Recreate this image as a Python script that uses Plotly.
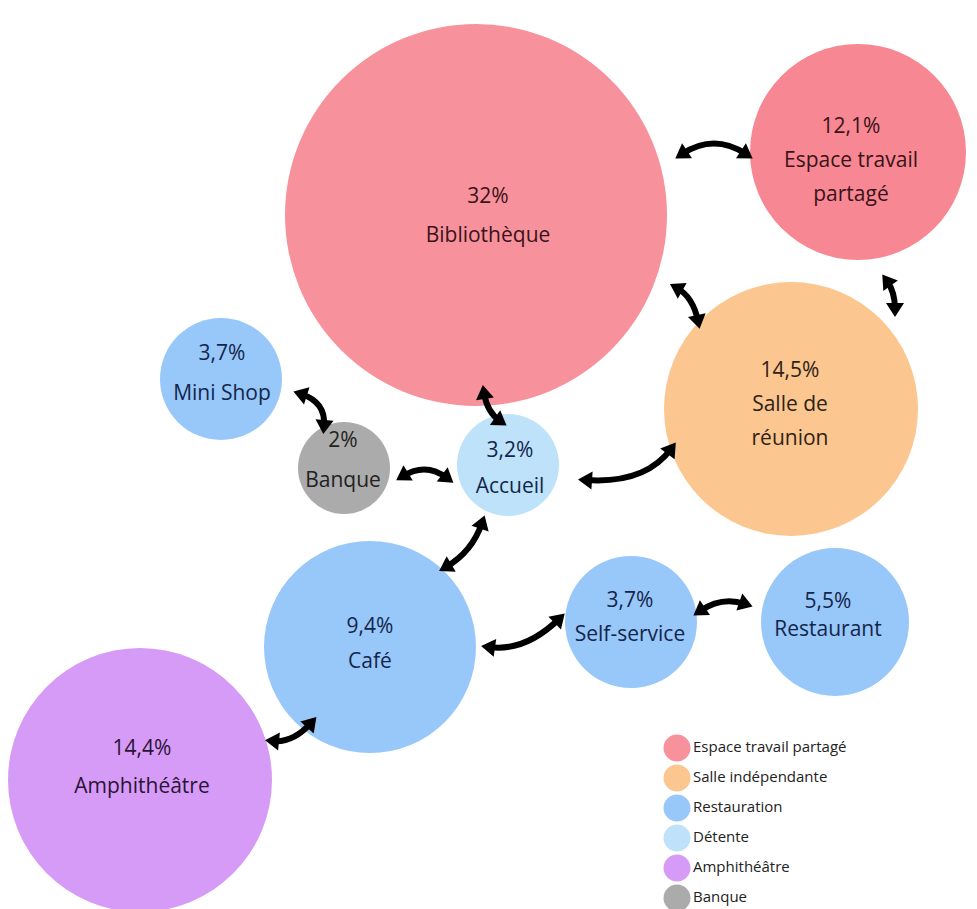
import math
import plotly.graph_objects as go

# ---------------- data ----------------
names = ["Bibliothèque", "Espace travail<br>partagé", "Salle de<br>réunion", "Mini Shop",
         "Banque", "Accueil", "Café", "Self-service", "Restaurant", "Amphithéâtre"]
pct_labels = ["32%", "12,1%", "14,5%", "3,7%", "2%", "3,2%", "9,4%", "3,7%", "5,5%", "14,4%"]
values = [32, 12.1, 14.5, 3.7, 2, 3.2, 9.4, 3.7, 5.5, 14.4]
groups = ["Espace travail partagé", "Espace travail partagé", "Salle indépendante", "Restauration",
          "Banque", "Détente", "Restauration", "Restauration", "Restauration", "Amphithéâtre"]
legend_items = ["Espace travail partagé", "Salle indépendante", "Restauration",
                "Détente", "Amphithéâtre", "Banque"]

# ---------------- layout / style ----------------
W, H = 977, 909
cx = [476, 858, 791, 221, 344, 508, 370, 631, 835, 140]
cy = [215, 152, 409, 379, 468, 465, 647, 622, 622, 780]
radii = [191, 108, 127, 61, 46, 51, 106, 66, 74, 132]
label_y = [217, 162, 406, 375, 462, 470, 645, 619, 617, 769]
label_x = [488, 851, 790, 222, 343, 510, 370, 630, 828, 142]
line_gap = [39, 34, 34, 40, 40, 36, 35, 34, 28, 38]
font_size = [21, 21, 21, 21, 21, 21, 21, 21, 21, 21]

fill = {"Espace travail partagé": "#F7929D", "Salle indépendante": "#FBC690",
        "Restauration": "#98C7FA", "Détente": "#BDE2FA", "Amphithéâtre": "#D69BF6",
        "Banque": "#ABABAB"}
txtcol = {"Espace travail partagé": "#3a1219", "Salle indépendante": "#2e2216",
          "Restauration": "#13264a", "Détente": "#13264a", "Amphithéâtre": "#2a1436",
          "Banque": "#222222"}
pink_overrides = {1: "#F78893"}

fig = go.Figure()

# bubbles
for i in range(len(names)):
    col = pink_overrides.get(i, fill[groups[i]])
    fig.add_trace(go.Scatter(x=[cx[i]], y=[cy[i]], mode="markers",
                             marker=dict(size=2 * radii[i], color=col, line=dict(width=0), opacity=1),
                             hoverinfo="skip", cliponaxis=False))

# labels
for i in range(len(names)):
    lines = [pct_labels[i]] + names[i].split("<br>")
    n = len(lines)
    ys = [label_y[i] + (k - (n - 1) / 2) * line_gap[i] for k in range(n)]
    fig.add_trace(go.Scatter(x=[label_x[i]] * n, y=ys, mode="text", text=lines,
                             textposition="middle center",
                             textfont=dict(family="Open Sans, sans-serif", size=font_size[i],
                                           color=txtcol[groups[i]]),
                             hoverinfo="skip", cliponaxis=False))

# arrows (decorative connectors): start, control, end
arrows = [
    ((682, 154), (714, 133), (746, 154)),
    ((677, 288), (693, 297), (698, 321)),
    ((887, 281), (895, 292), (895, 309)),
    ((484, 393), (487, 412), (500, 421)),
    ((301, 394), (326, 402), (324, 426)),
    ((403, 476), (426, 462), (447, 478)),
    ((586, 480), (645, 484), (671, 449)),
    ((482, 523), (472, 552), (446, 567)),
    ((489, 647), (525, 652), (559, 619)),
    ((700, 611), (722, 596), (745, 604)),
    ((273, 741), (293, 743), (311, 723)),
]
shapes = []
for p0, c, p1 in arrows:
    shapes.append(dict(type="path", xref="x", yref="y",
                       path=f"M{p0[0]},{p0[1]} Q{c[0]},{c[1]} {p1[0]},{p1[1]}",
                       line=dict(color="black", width=6)))
    for end in (p0, p1):
        dx, dy = end[0] - c[0], end[1] - c[1]
        L = math.hypot(dx, dy) or 1
        dx, dy = dx / L, dy / L
        nx, ny = -dy, dx
        tip = (end[0] + dx * 8, end[1] + dy * 8)
        base = (end[0] - dx * 6, end[1] - dy * 6)
        a = (base[0] + nx * 9, base[1] + ny * 9)
        b = (base[0] - nx * 9, base[1] - ny * 9)
        shapes.append(dict(type="path", xref="x", yref="y",
                           path=f"M{tip[0]:.1f},{tip[1]:.1f} L{a[0]:.1f},{a[1]:.1f} L{b[0]:.1f},{b[1]:.1f} Z",
                           fillcolor="black", line=dict(width=0)))

# manual legend
leg_x, leg_y0, leg_step = 677, 748, 30
fig.add_trace(go.Scatter(x=[leg_x] * len(legend_items),
                         y=[leg_y0 + k * leg_step for k in range(len(legend_items))],
                         mode="markers",
                         marker=dict(size=27, color=[fill[g] for g in legend_items], line=dict(width=0)),
                         hoverinfo="skip", cliponaxis=False))
fig.add_trace(go.Scatter(x=[leg_x + 16] * len(legend_items),
                         y=[leg_y0 + k * leg_step for k in range(len(legend_items))],
                         mode="text", text=legend_items, textposition="middle right",
                         textfont=dict(family="Open Sans, sans-serif", size=15, color="#222222"),
                         hoverinfo="skip", cliponaxis=False))

fig.update_layout(width=W, height=H, margin=dict(l=0, r=0, t=0, b=0),
                  paper_bgcolor="white", plot_bgcolor="white", showlegend=False,
                  shapes=shapes,
                  xaxis=dict(range=[0, W], visible=False, fixedrange=True),
                  yaxis=dict(range=[H, 0], visible=False, fixedrange=True))

fig.write_html("out.html")
